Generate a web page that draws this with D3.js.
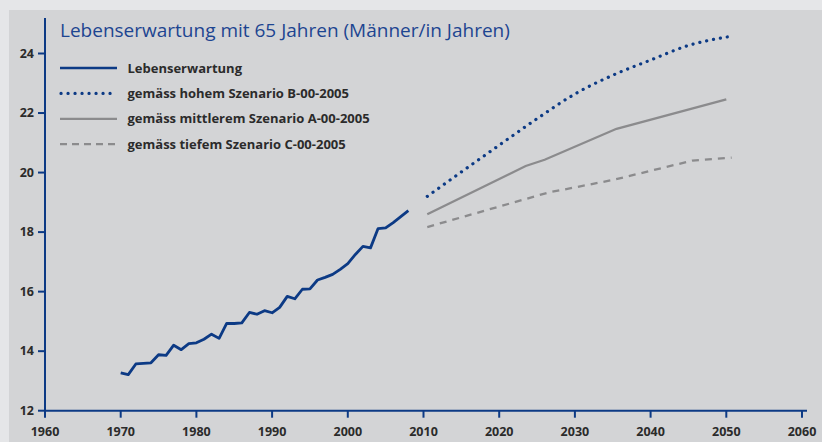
<!DOCTYPE html>
<html>
<head>
<meta charset="utf-8">
<script src="https://cdn.jsdelivr.net/npm/d3@7"></script>
<style>
  body { margin: 0; background: #e5e6e8; }
  svg { display: block; }
  .tick-label { font-family: "Open Sans", sans-serif; font-weight: bold; font-size: 12.5px; fill: #2b2b2b; }
  .legend-label { font-family: "Open Sans", sans-serif; font-weight: bold; font-size: 13px; fill: #2b2b2b; }
</style>
</head>
<body>
<div id="chart"></div>
<script>
// data
const histYears = d3.range(1970, 2009);
const histValues = [13.27, 13.21, 13.57, 13.59, 13.61, 13.88, 13.86, 14.20, 14.05, 14.25,
                    14.28, 14.40, 14.57, 14.43, 14.93, 14.93, 14.95, 15.30, 15.24, 15.36,
                    15.29, 15.47, 15.84, 15.76, 16.08, 16.09, 16.39, 16.48, 16.58, 16.75,
                    16.94, 17.25, 17.52, 17.47, 18.12, 18.14, 18.32, 18.52, 18.72];
const highYears = [2010.5, 2015, 2020, 2025, 2030, 2035, 2040, 2045, 2050.7];
const highValues = [19.2, 20.02, 20.92, 21.81, 22.64, 23.27, 23.78, 24.27, 24.58];
const midYears = [2010.5, 2023.5, 2026, 2035.5, 2050];
const midValues = [18.6, 20.22, 20.43, 21.47, 22.46];
const lowYears = [2010.5, 2026.5, 2035, 2045.5, 2050.7];
const lowValues = [18.17, 19.33, 19.75, 20.4, 20.5];
const xTicks = [1960, 1970, 1980, 1990, 2000, 2010, 2020, 2030, 2040, 2050, 2060];
const yTicks = [12, 14, 16, 18, 20, 22, 24];
const title = "Lebenserwartung mit 65 Jahren (Männer/in Jahren)";
const legendNames = ["Lebenserwartung", "gemäss hohem Szenario B-00-2005",
                     "gemäss mittlerem Szenario A-00-2005", "gemäss tiefem Szenario C-00-2005"];

const blue = "#0c3a85", gray = "#8b8b8d";
const W = 822, H = 442;

const svg = d3.select("#chart").append("svg").attr("width", W).attr("height", H);

// panel
svg.append("rect").attr("x", 9).attr("y", 10).attr("width", W - 9).attr("height", H - 10).attr("fill", "#d3d4d6");

const x = d3.scaleLinear().domain([1960, 2060]).range([45, 802]);
const y = d3.scaleLinear().domain([12, 24]).range([410.7, 53.5]);

// axes
const ax = svg.append("g");
ax.append("line").attr("x1", 45).attr("x2", 45).attr("y1", 18).attr("y2", y(12))
  .attr("stroke", blue).attr("stroke-width", 2);
ax.append("line").attr("x1", 44).attr("x2", 807).attr("y1", y(12)).attr("y2", y(12))
  .attr("stroke", blue).attr("stroke-width", 2);

ax.selectAll(".yt").data(yTicks).enter().append("line")
  .attr("x1", 38).attr("x2", 45).attr("y1", d => y(d)).attr("y2", d => y(d))
  .attr("stroke", blue).attr("stroke-width", 2);
ax.selectAll(".yl").data(yTicks).enter().append("text")
  .attr("class", "tick-label").attr("x", 34).attr("y", d => y(d) + 4)
  .attr("text-anchor", "end").text(d => d);

ax.selectAll(".xt").data(xTicks).enter().append("line")
  .attr("x1", d => x(d)).attr("x2", d => x(d)).attr("y1", y(12)).attr("y2", y(12) + 7)
  .attr("stroke", blue).attr("stroke-width", 2);
ax.selectAll(".xl").data(xTicks).enter().append("text")
  .attr("class", "tick-label").attr("x", d => x(d)).attr("y", 436)
  .attr("text-anchor", "middle").text(d => d);

// series
const line = d3.line().x(d => x(d[0])).y(d => y(d[1]));
const smooth = d3.line().x(d => x(d[0])).y(d => y(d[1])).curve(d3.curveMonotoneX);
const zip = (a, b) => a.map((v, i) => [v, b[i]]);

svg.append("path").attr("d", line(zip(histYears, histValues)))
  .attr("fill", "none").attr("stroke", blue).attr("stroke-width", 2.8).attr("stroke-linejoin", "round");
svg.append("path").attr("d", smooth(zip(highYears, highValues)))
  .attr("fill", "none").attr("stroke", blue).attr("stroke-width", 3.2)
  .attr("stroke-dasharray", "0.1 6.9").attr("stroke-linecap", "round");
svg.append("path").attr("d", line(zip(midYears, midValues)))
  .attr("fill", "none").attr("stroke", gray).attr("stroke-width", 2.3);
svg.append("path").attr("d", line(zip(lowYears, lowValues)))
  .attr("fill", "none").attr("stroke", gray).attr("stroke-width", 2.3)
  .attr("stroke-dasharray", "7 6");

// title
svg.append("text").attr("x", 60).attr("y", 37)
  .style("font-family", "'Open Sans', sans-serif").style("font-size", "19px")
  .attr("fill", "#1d4591").text(title);

// legend
const legendStyles = [
  {stroke: blue, w: 2.4, dash: null, cap: "butt"},
  {stroke: blue, w: 3.2, dash: "0.1 6.9", cap: "round"},
  {stroke: gray, w: 2.3, dash: null, cap: "butt"},
  {stroke: gray, w: 2.3, dash: "7 5", cap: "butt"}
];
const lg = svg.append("g").selectAll("g").data(legendNames).enter().append("g")
  .attr("transform", (d, i) => `translate(0,${68 + i * 25.4})`);
lg.append("line").attr("x1", (d, i) => i === 1 ? 61 : 60).attr("x2", 117).attr("y1", 0).attr("y2", 0)
  .attr("stroke", (d, i) => legendStyles[i].stroke)
  .attr("stroke-width", (d, i) => legendStyles[i].w)
  .attr("stroke-dasharray", (d, i) => legendStyles[i].dash)
  .attr("stroke-linecap", (d, i) => legendStyles[i].cap);
lg.append("text").attr("class", "legend-label").attr("x", 127.5).attr("y", 4.5).text(d => d);
</script>
</body>
</html>
